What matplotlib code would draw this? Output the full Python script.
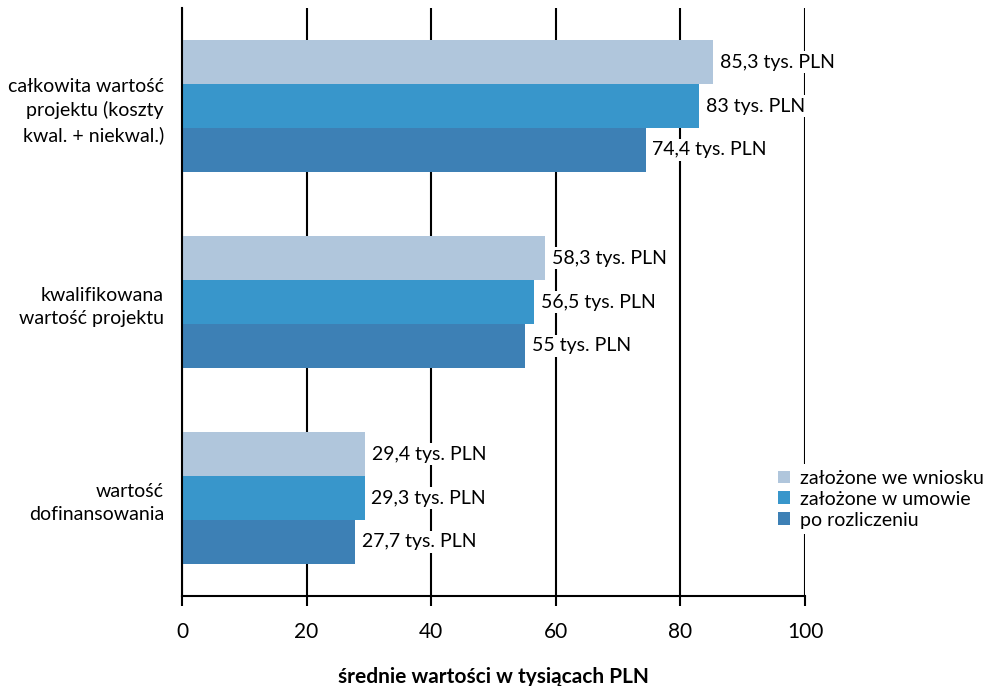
import numpy as np
import matplotlib.pyplot as plt

plt.rcParams['font.family'] = ['Lato', 'DejaVu Sans']

categories = ["całkowita wartość\nprojektu (koszty\nkwal. + niekwal.)",
              "kwalifikowana\nwartość projektu",
              "wartość\ndofinansowania"]
series_names = ["założone we wniosku", "założone w umowie", "po rozliczeniu"]
wniosek = [85.3, 58.3, 29.4]
umowa = [83.0, 56.5, 29.3]
rozliczenie = [74.4, 55.0, 27.7]
colors = ["#b0c6dc", "#3896cb", "#3d80b5"]


def fmt(v):
    s = ("%.1f" % v).replace(".", ",")
    if s.endswith(",0"):
        s = s[:-2]
    return s + " tys. PLN"


fig = plt.figure(figsize=(9.92, 6.86), dpi=100)
ax = fig.add_axes([182 / 992, 90 / 686, 623 / 992, 588 / 686])

y = np.arange(len(categories))
h = 0.224
for i, (vals, name, c) in enumerate(zip([wniosek, umowa, rozliczenie], series_names, colors)):
    pos = y + (i - 1) * h
    ax.barh(pos, vals, height=h, color=c, label=name, zorder=2)
    for p, v in zip(pos, vals):
        ax.annotate(fmt(v), (v, p), xytext=(5, 0), textcoords="offset points",
                    va="center", ha="left", fontsize=14, zorder=4,
                    bbox=dict(facecolor="white", edgecolor="none", pad=1.5))

ax.set_xlim(0, 100)
ax.set_ylim(2.5, -0.5)
ax.set_xticks([0, 20, 40, 60, 80, 100])
ax.set_yticks(y)
ax.set_yticklabels(categories, fontsize=14, multialignment="right", linespacing=1.45)
ax.tick_params(axis="y", length=0, pad=13)
ax.tick_params(axis="x", length=7, width=1.5, labelsize=15, pad=12, direction="out")
ax.xaxis.grid(True, color="black", linewidth=1.5, zorder=1)
ax.set_axisbelow(True)
for s in ["top", "right"]:
    ax.spines[s].set_visible(False)
ax.spines["left"].set_linewidth(1.5)
ax.spines["bottom"].set_linewidth(1.5)
ax.set_xlabel("średnie wartości w tysiącach PLN", fontsize=15, fontweight="bold", labelpad=18)

leg = ax.legend(loc="upper left", bbox_to_anchor=(772 / 992, 1 - 464 / 686),
                bbox_transform=fig.transFigure, frameon=True, fontsize=14,
                handlelength=0.65, handleheight=0.65, handletextpad=0.5,
                labelspacing=0.2, borderpad=0.3, borderaxespad=0)
leg.get_frame().set_facecolor("white")
leg.get_frame().set_edgecolor("none")
leg.get_frame().set_alpha(1)
leg.set_zorder(5)

fig.savefig("out.png", dpi=100)
